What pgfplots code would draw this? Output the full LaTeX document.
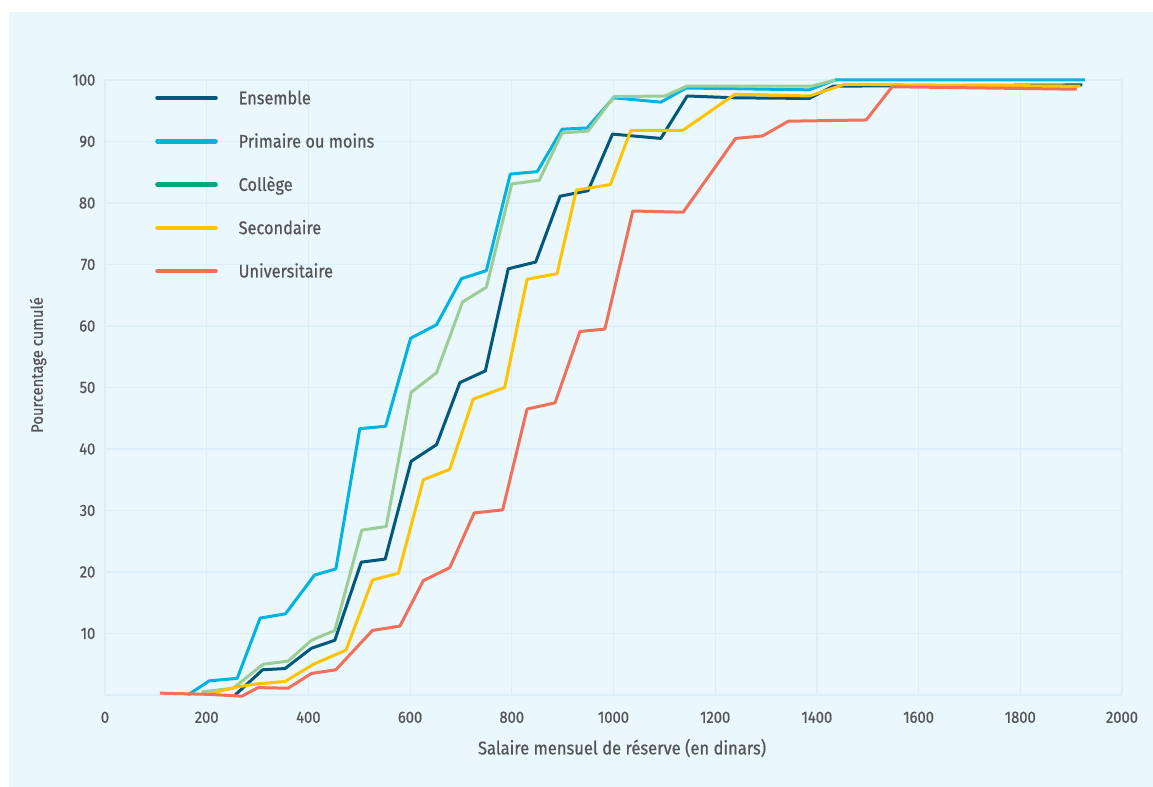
\documentclass[border=0pt]{standalone}
\usepackage{fontspec}
\setmainfont{Fira Sans}[FakeStretch=0.9]
\newfontfamily\medfont{Fira Sans}[FakeStretch=0.9, FakeBold=0.7]
\usepackage{pgfplots}
\pgfplotsset{compat=1.18}
\definecolor{bgc}{RGB}{234,247,252}
\definecolor{gridc}{RGB}{220,238,247}
\definecolor{textc}{RGB}{85,85,85}
\definecolor{ensc}{RGB}{0,88,122}
\definecolor{primc}{RGB}{0,180,226}
\definecolor{colc}{RGB}{0,166,128}
\definecolor{colline}{RGB}{155,205,150}
\definecolor{secc}{RGB}{255,196,0}
\definecolor{univc}{RGB}{240,112,90}
\begin{document}
\begin{tikzpicture}[x=1pt,y=1pt]
\fill[white] (0,0) rectangle (576.5,393.5);
\fill[bgc] (4.5,0) rectangle (576.5,387.5);
\begin{axis}[
  at={(52.5pt,46pt)}, anchor=south west,
  scale only axis, width=508.5pt, height=307.5pt,
  xmin=0, xmax=2000, ymin=0, ymax=100,
  clip=false,
  axis line style={draw=none},
  major tick length=0pt, tick style={draw=none},
  xtick={0,200,...,2000},
  ytick={0,10,...,100},
  yticklabels={,10,20,30,40,50,60,70,80,90,100},
  scaled ticks=false,
  /pgf/number format/1000 sep={},
  /pgf/number format/assume math mode=true,
  grid=major,
  major grid style={draw=gridc, line width=0.6pt},
  ticklabel style={font=\medfont\fontsize{8.2}{9}\selectfont, text=textc},
  xticklabel style={yshift=-4.8pt},
  yticklabel style={xshift=-1.3pt},
  xlabel={Salaire mensuel de réserve (en dinars)},
  ylabel={Pourcentage cumulé},
  xlabel style={font=\medfont\fontsize{9.2}{10}\selectfont, text=textc, at={(axis description cs:0.5084,-0.0862)}, anchor=center},
  ylabel style={font=\medfont\fontsize{8.2}{10}\selectfont, text=textc, at={(axis description cs:-0.0659,0.5366)}, anchor=center},
  legend style={draw=none, fill=none, at={(axis description cs:0.0490,0.9859)}, anchor=north west,
    inner sep=0pt, row sep=12.75pt, column sep=10.4pt,
    nodes={inner sep=0pt, text height=7.6pt, text depth=1.3pt, font=\medfont\fontsize{9.1}{11}\selectfont, text=textc},
    cells={anchor=west}},
  legend image code/.code={\draw[#1, line width=2.3pt, line cap=round] (0pt,0pt) -- (29pt,0pt);},
  every axis plot/.append style={line width=1.5pt, line join=round},
]
\addlegendimage{ensc}\addlegendentry{Ensemble}
\addlegendimage{primc}\addlegendentry{Primaire ou moins}
\addlegendimage{colc}\addlegendentry{Collège}
\addlegendimage{secc}\addlegendentry{Secondaire}
\addlegendimage{univc}\addlegendentry{Universitaire}

% Ensemble
\addplot[ensc, forget plot] coordinates {
(256,0) (310,4.1) (354,4.3) (406,7.6) (452,8.9) (504,21.6) (551,22.1) (602,38.0) (652,40.7)
(698,50.8) (748,52.7) (793,69.3) (847,70.4) (895,81.1) (950,82.0) (998,91.2) (1093,90.5)
(1145,97.4) (1240,97.1) (1385,97.0) (1432,99.0) (1922,99.2)};
% Primaire ou moins
\addplot[primc, forget plot] coordinates {
(163,0) (205,2.3) (260,2.7) (305,12.5) (355,13.2) (412,19.5) (454,20.5) (501,43.3) (552,43.7)
(601,58.0) (652,60.2) (701,67.7) (750,69.0) (797,84.7) (850,85.1) (899,92.0) (948,92.2)
(1000,97.1) (1093,96.4) (1143,98.7) (1385,98.4) (1436,100) (1927,100)};
% College
\addplot[colline, forget plot] coordinates {
(190,0.5) (252,1.1) (311,5.0) (360,5.5) (406,8.9) (452,10.5) (505,26.8) (553,27.4) (602,49.2)
(652,52.4) (703,63.9) (750,66.3) (800,83.1) (854,83.7) (899,91.4) (950,91.7) (1001,97.3)
(1101,97.4) (1144,99.0) (1390,99.0) (1436,100)};
% Secondaire
\addplot[secc, forget plot] coordinates {
(205,0.2) (259,1.3) (298,1.8) (354,2.2) (410,5.0) (474,7.3) (526,18.7) (577,19.8) (626,35.0)
(678,36.7) (724,48.1) (786,50.0) (830,67.6) (889,68.5) (927,82.1) (994,83.0) (1034,91.8)
(1136,91.8) (1239,97.7) (1385,97.4) (1455,99.3) (1918,99.0)};
% Universitaire
\addplot[univc, forget plot] coordinates {
(108,0.3) (206,0.1) (269,-0.2) (301,1.2) (360,1.1) (406,3.5) (454,4.1) (526,10.5) (580,11.2)
(626,18.6) (678,20.7) (726,29.6) (782,30.1) (830,46.5) (885,47.5) (934,59.1) (983,59.5)
(1038,78.7) (1137,78.5) (1240,90.5) (1293,90.9) (1344,93.3) (1497,93.5) (1548,98.9) (1911,98.5)};
\end{axis}
\pgfresetboundingbox
\path (0,0) rectangle (576.5,393.5);
\end{tikzpicture}
\end{document}
